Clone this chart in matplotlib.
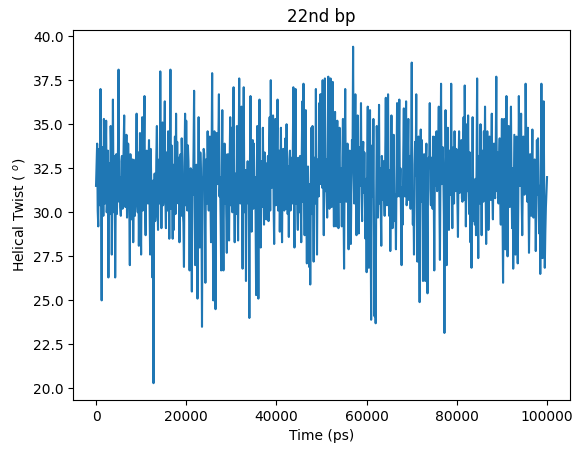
import numpy as np
import matplotlib
matplotlib.use("Agg")
import matplotlib.pyplot as plt

# helical twist of the 22nd base pair (deg)
# turning points, one every 250 ps, in blocks of roughly 16-17 ns
twist_a = [31.5, 33.9, 29.2, 33.0, 37.0, 25.0, 33.5, 35.3, 30.5, 35.2,
           31.0, 26.3, 32.8, 34.9, 27.6, 36.4, 30.0, 26.3, 33.3, 31.5,
           38.1, 32.0, 29.8, 33.2, 31.5, 35.5, 30.3, 34.4, 31.2, 32.5,
           27.0, 31.0, 31.8, 28.3, 32.6, 33.0, 35.6, 30.0, 28.1, 34.5,
           27.6, 35.4, 31.0, 36.6, 28.7, 33.5, 30.5, 34.1, 27.6, 31.5,
           26.3, 20.3, 32.2, 30.0, 34.9, 29.0, 33.0, 38.0, 29.1, 35.1,
           31.0, 36.3, 29.1, 32.5, 34.6, 28.5]
twist_b = [38.1, 33.8, 28.5, 29.0, 34.3, 35.6, 34.0, 30.5, 28.3, 33.3,
           34.2, 30.0, 26.9, 35.6, 35.2, 30.1, 32.9, 26.7, 32.5, 25.5,
           31.0, 36.9, 27.0, 32.7, 25.1, 35.4, 28.0, 32.1, 23.5, 32.1,
           33.3, 26.0, 32.4, 34.6, 30.1, 34.3, 28.3, 37.9, 25.0, 34.6,
           24.5, 34.5, 31.6, 36.7, 32.0, 26.7, 35.8, 26.7, 33.9, 33.3,
           27.7, 33.3, 28.4, 35.4, 34.8, 30.0, 37.1, 28.3, 31.5, 34.9,
           28.4, 37.6, 30.5, 36.0, 26.8, 37.1, 30.0, 26.1]
twist_c = [31.4, 30.5, 24.0, 36.6, 28.9, 34.1, 33.9, 32.0, 25.3, 34.9,
           25.1, 36.4, 28.0, 32.5, 34.8, 29.3, 30.6, 29.6, 32.0, 29.5,
           35.4, 37.5, 31.4, 35.5, 28.2, 35.3, 32.0, 36.4, 32.0, 28.9,
           34.8, 28.3, 33.6, 30.1, 34.2, 35.0, 29.9, 28.6, 33.5, 33.1,
           30.5, 37.1, 28.0, 37.0, 33.1, 29.0, 33.1, 33.2, 28.3, 36.3,
           37.3, 28.7, 35.8, 27.1, 32.6, 26.9, 25.9, 34.8, 34.9, 27.2,
           31.8, 37.0, 27.6, 31.7, 36.2, 36.7]
twist_d = [36.7, 37.5, 28.7, 37.6, 33.0, 29.7, 37.7, 30.2, 37.6, 30.3,
           37.4, 29.2, 35.7, 29.2, 35.2, 29.1, 34.8, 31.2, 29.2, 35.3,
           26.8, 37.0, 30.6, 33.9, 27.9, 33.5, 28.2, 34.1, 39.4, 30.5,
           36.7, 28.7, 35.5, 28.8, 31.5, 36.2, 29.5, 34.0, 33.4, 28.5,
           26.6, 36.0, 26.85, 35.8, 23.9, 33.8, 35.3, 24.1, 23.7, 34.9,
           29.7, 36.1, 32.5, 28.1, 32.6, 32.9, 29.8, 36.5, 30.4, 36.7,
           29.8, 27.8, 35.5, 29.1, 34.4, 29.5, 27.9, 36.2, 32.2]
twist_e = [36.4, 32.5, 27.0, 29.3, 35.9, 30.9, 36.3, 31.3, 35.3, 31.3,
           30.2, 38.5, 29.3, 27.6, 34.0, 36.7, 27.2, 34.3, 24.9, 34.7,
           34.1, 26.1, 33.3, 26.1, 33.9, 25.4, 33.1, 36.2, 30.4, 32.2,
           34.3, 26.7, 34.3, 34.6, 31.6, 36.0, 27.3, 37.3, 31.8, 32.3,
           23.15, 35.8, 27.0, 34.8, 29.0, 32.2, 37.3, 29.1, 33.7, 34.6,
           31.2, 33.5, 28.6, 34.6, 31.8, 34.1, 30.6, 35.4, 37.2, 29.2,
           35.0, 35.5, 29.9, 28.3, 26.85, 35.4, 29.5]
twist_f = [29.3, 28.7, 37.6, 27.4, 33.0, 35.0, 28.7, 33.5, 34.6, 36.0,
           28.2, 34.6, 29.0, 34.3, 30.7, 35.6, 29.6, 33.9, 30.8, 37.7,
           33.4, 30.5, 34.2, 29.3, 35.3, 26.0, 35.3, 27.9, 36.6, 27.5,
           34.9, 30.3, 36.0, 29.1, 26.8, 34.4, 27.6, 34.3, 27.1, 36.6,
           31.5, 35.6, 28.7, 34.3, 31.0, 37.3, 32.0, 34.8, 27.7, 33.3,
           29.8, 34.7, 29.7, 33.0, 27.8, 34.1, 34.2, 28.8, 26.5, 37.3,
           27.4, 36.3, 26.85, 30.3, 32.0]

# frames in between (125 ps later), mostly inside the dense 29.5-34 band
band_a = [32.8, 30.1, 33.6, 30.4, 31.2, 33.7, 29.8, 33.1, 32.9, 30.0,
          33.5, 31.9, 29.9, 33.4, 31.6, 31.0, 33.2, 30.5, 29.9, 33.6,
          30.6, 30.3, 32.9, 30.2, 33.8, 31.1, 32.8, 29.7, 33.9, 30.4,
          33.3, 29.6, 33.0, 31.4, 29.8, 32.1, 30.5, 33.4, 31.2, 30.2,
          32.9, 30.1, 33.7, 30.4, 32.8, 31.3, 32.7, 30.3, 33.6, 29.6,
          31.8, 30.7, 29.5, 33.2, 30.6, 32.9, 30.5, 31.8, 31.7, 30.4,
          33.5, 30.8, 33.4, 30.1, 31.3, 32.4]
band_b = [30.2, 31.4, 32.7, 31.6, 29.9, 31.2, 31.9, 33.1, 30.6, 29.8,
          32.6, 29.4, 33.1, 30.4, 31.9, 33.8, 30.2, 30.1, 29.3, 32.4,
          33.5, 30.7, 31.8, 30.3, 31.2, 30.6, 33.4, 30.1, 31.6, 33.6,
          30.2, 33.0, 30.5, 31.7, 32.9, 30.6, 33.5, 30.4, 31.2, 29.8,
          31.4, 32.8, 33.9, 30.9, 29.7, 32.5, 30.2, 31.6, 30.5, 30.0,
          31.9, 29.6, 32.7, 30.4, 32.1, 33.6, 31.0, 32.2, 29.9, 31.6,
          33.3, 30.8, 32.9, 30.4, 32.6, 31.1, 32.4, 31.5]
band_c = [32.9, 31.6, 32.5, 30.9, 32.4, 30.2, 31.0, 29.9, 30.7, 31.0,
          32.3, 30.6, 32.9, 30.3, 31.2, 33.4, 32.8, 30.9, 33.2, 33.4,
          30.1, 31.4, 33.0, 30.5, 33.1, 30.4, 33.6, 30.1, 33.5, 32.4,
          30.3, 32.9, 30.4, 33.5, 30.2, 31.8, 32.6, 33.0, 30.1, 30.7,
          33.2, 31.1, 33.6, 30.5, 30.2, 32.9, 30.0, 30.8, 33.4, 30.6,
          31.5, 32.9, 30.4, 31.1, 30.2, 31.6, 30.9, 29.9, 31.4, 33.1,
          30.5, 31.3, 33.0, 30.9, 32.0, 31.6]
band_d = [31.4, 32.0, 33.5, 31.2, 31.0, 33.4, 31.5, 33.8, 31.8, 33.6,
          31.9, 33.5, 31.6, 33.1, 31.4, 33.3, 30.6, 32.5, 33.1, 30.4,
          32.6, 31.8, 32.2, 30.6, 31.7, 30.8, 31.5, 33.0, 32.2, 33.6,
          30.8, 32.9, 30.5, 33.7, 32.8, 31.0, 33.2, 31.1, 30.6, 31.9,
          33.0, 30.2, 32.4, 29.4, 31.5, 30.9, 29.2, 28.9, 30.7, 33.0,
          31.8, 30.5, 30.3, 33.2, 30.7, 31.0, 33.5, 31.6, 33.8, 31.2,
          32.4, 31.9, 30.7, 33.1, 30.8, 31.0, 32.3, 30.9, 33.9]
band_e = [30.9, 29.8, 31.4, 33.3, 31.0, 33.6, 30.4, 33.4, 30.7, 33.2,
          33.5, 31.2, 30.9, 32.7, 32.1, 30.3, 32.6, 29.9, 31.8, 30.6,
          31.3, 31.9, 30.4, 32.8, 30.2, 32.4, 32.9, 31.3, 33.1, 30.2,
          31.4, 32.1, 31.5, 31.2, 33.4, 30.9, 32.8, 31.6, 33.7, 29.8,
          30.1, 31.3, 32.4, 30.6, 33.5, 31.0, 31.6, 32.7, 30.5, 32.0,
          33.6, 30.7, 32.6, 31.1, 33.2, 30.8, 33.1, 30.7, 32.9, 32.4,
          31.2, 31.6, 33.4, 31.9, 31.8, 30.8, 31.7]
band_f = [31.9, 32.6, 31.1, 33.2, 30.5, 31.2, 31.7, 30.6, 31.2, 31.5,
          30.9, 32.3, 30.7, 32.5, 33.4, 31.0, 32.9, 31.1, 33.5, 31.2,
          31.3, 32.8, 30.8, 32.9, 30.1, 31.4, 30.5, 31.9, 30.8, 31.6,
          32.4, 33.0, 31.7, 32.5, 30.3, 31.1, 30.2, 31.0, 30.6, 32.8,
          33.7, 30.8, 31.5, 33.6, 32.1, 34.2, 30.6, 31.2, 30.8, 31.5,
          32.7, 31.5, 30.6, 31.4, 30.5, 31.0, 31.6, 31.5, 31.9, 30.7,
          31.7, 31.0, 28.9, 31.1]

t_start, t_end = 0, 100000  # ps

peaks = np.concatenate([twist_a, twist_b, twist_c, twist_d, twist_e, twist_f])
band = np.concatenate([band_a, band_b, band_c, band_d, band_e, band_f])

# interleave: peak, in-between frame, peak, ...
twist = np.empty(len(peaks) + len(band))
twist[0::2] = peaks
twist[1::2] = band
time = np.linspace(t_start, t_end, len(twist))

fig = plt.figure(figsize=(5.83, 4.53), dpi=100)
ax = fig.add_axes([0.126, 0.117, 0.851, 0.817])
ax.plot(time, twist, color="#1f77b4", linewidth=1.5)

ax.set_title("22nd bp")
ax.set_xlabel("Time (ps)")
ax.set_ylabel(r"Helical Twist ( $^o$)")

fig.savefig("out.png", dpi=100)
